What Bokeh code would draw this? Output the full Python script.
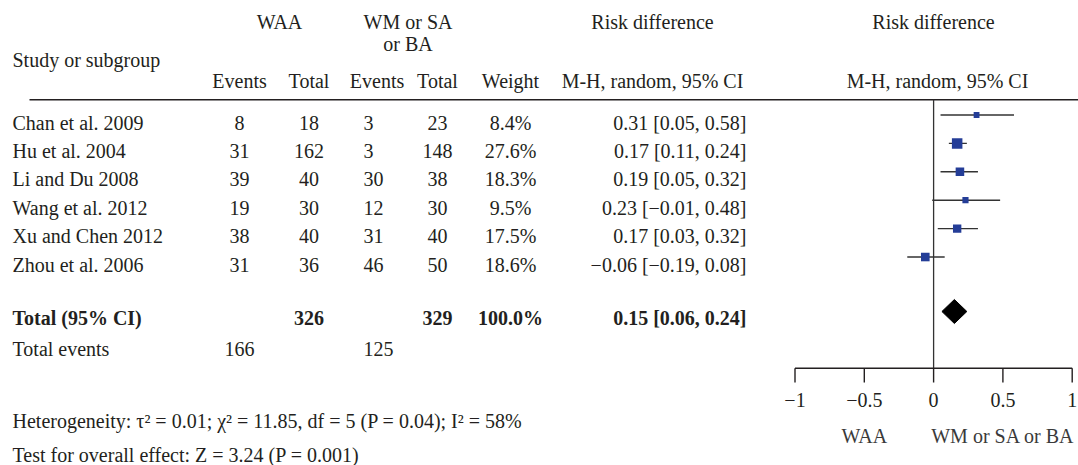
from bokeh.plotting import figure
from bokeh.models import Range1d
from bokeh.core.properties import value
from bokeh.embed import file_html
from bokeh.resources import INLINE
import math

# ---------------- data ----------------
studies = ["Chan et al. 2009", "Hu et al. 2004", "Li and Du 2008",
           "Wang et al. 2012", "Xu and Chen 2012", "Zhou et al. 2006"]
waa_events = [8, 31, 39, 19, 38, 31]
waa_total = [18, 162, 40, 30, 40, 36]
ctrl_events = [3, 3, 30, 12, 31, 46]
ctrl_total = [23, 148, 38, 30, 40, 50]
weights = [8.4, 27.6, 18.3, 9.5, 17.5, 18.6]
rd = [0.31, 0.17, 0.19, 0.23, 0.17, -0.06]
rd_lo = [0.05, 0.11, 0.05, -0.01, 0.03, -0.19]
rd_hi = [0.58, 0.24, 0.32, 0.48, 0.32, 0.08]

total_label = "Total (95% CI)"
total_waa = 326
total_ctrl = 329
total_weight = 100.0
total_rd = 0.15
total_lo = 0.06
total_hi = 0.24
events_label = "Total events"
events_waa = 166
events_ctrl = 125

heterogeneity = "Heterogeneity: τ² = 0.01; χ² = 11.85, df = 5 (P = 0.04); I² = 58%"
overall = "Test for overall effect: Z = 3.24 (P = 0.001)"

tick_values = [-1, -0.5, 0, 0.5, 1]
tick_labels = ["−1", "−0.5", "0", "0.5", "1"]
favours = ["WAA", "WM or SA or BA"]


def fmt(v):
    s = f"{abs(v):.2f}"
    return ("−" + s) if v < 0 else s


def ci_text(e, l, h):
    return f"{fmt(e)} [{fmt(l)}, {fmt(h)}]"


# ---------------- styling / layout ----------------
FONT = value("Liberation Serif")
FS = "20px"
TXT = "#231f20"
BLUE = "#243d97"

W, H = 1078, 465
p = figure(width=W, height=H, x_range=Range1d(0, W), y_range=Range1d(H, 0),
           output_backend="svg", toolbar_location=None, min_border=0,
           x_axis_location=None, y_axis_location=None,
           outline_line_color=None, background_fill_color="white",
           border_fill_color="white")
p.grid.visible = False

# risk-difference scale: -1 -> 794.5 px, 1 -> 1071.7 px
zero_px, unit_px = 933.1, 138.6
p.extra_x_ranges = {"rd": Range1d((0 - zero_px) / unit_px, (W - zero_px) / unit_px)}


def txt(x, y, t, align="left", bold=False, color=TXT, x_range_name=None):
    kw = dict(x=x, y=y, text=t, text_font=FONT, text_font_size=FS,
              text_align=align, text_baseline="middle", text_color=color,
              text_font_style="bold" if bold else "normal")
    if x_range_name:
        kw["x_range_name"] = x_range_name
    p.text(**kw)


# column anchors (layout)
X_NAME, X_EV1, X_TOT1, X_EV2, X_TOT2, X_W, X_CI = 12, 239, 308.5, 363, 437, 510, 746
X_RD1, X_RD2 = 652, 933

# headers
txt([279], [21], ["WAA"], "center")
txt([407.5], [21], ["WM or SA"], "center")
txt([407.5], [43], ["or BA"], "center")
txt([X_NAME], [59], ["Study or subgroup"])
txt([X_EV1, X_TOT1, 376.5, X_TOT2, X_W], [80] * 5,
    ["Events", "Total", "Events", "Total", "Weight"], "center")
txt([X_RD1, X_RD2], [21, 21], ["Risk difference", "Risk difference"], "center")
txt([X_RD1, 937], [80, 80], ["M-H, random, 95% CI", "M-H, random, 95% CI"], "center")

# header rule
p.segment(x0=[29], y0=[99.3], x1=[W], y1=[99.3], line_color=TXT, line_width=1.5)

# study rows
n = len(studies)
row_y = [122 + 28.4 * i for i in range(n)]
txt([X_NAME] * n, row_y, studies)
txt([X_EV1] * n, row_y, [str(v) for v in waa_events], "center")
txt([X_TOT1] * n, row_y, [str(v) for v in waa_total], "center")
txt([X_EV2] * n, row_y, [str(v) for v in ctrl_events], "left")
txt([X_TOT2] * n, row_y, [str(v) for v in ctrl_total], "center")
txt([X_W] * n, row_y, [f"{w:.1f}%" for w in weights], "center")
txt([X_CI] * n, row_y, [ci_text(e, l, h) for e, l, h in zip(rd, rd_lo, rd_hi)], "right")

# totals
ty = 317.5
txt([X_NAME], [ty], [total_label], bold=True)
txt([X_TOT1, X_TOT2, X_W], [ty] * 3,
    [str(total_waa), str(total_ctrl), f"{total_weight:.1f}%"], "center", bold=True)
txt([X_CI], [ty], [ci_text(total_rd, total_lo, total_hi)], "right", bold=True)

ey = 348.5
txt([X_NAME], [ey], [events_label])
txt([X_EV1], [ey], [str(events_waa)], "center")
txt([X_EV2], [ey], [str(events_ctrl)], "left")

txt([X_NAME], [420], [heterogeneity])
txt([X_NAME], [454], [overall])

# ---------------- forest plot ----------------
AX_Y = 367.7
forest_y = [y - 7.5 for y in row_y]

# line of no effect
p.segment(x0=[0], y0=[99.3], x1=[0], y1=[AX_Y], x_range_name="rd",
          line_color="#333333", line_width=1.3)

# CIs
p.segment(x0=rd_lo, y0=forest_y, x1=rd_hi, y1=forest_y, x_range_name="rd",
          line_color="#333333", line_width=1.4)
# weight boxes
sizes = [2.0 * math.sqrt(w) for w in weights]
p.scatter(x=rd, y=forest_y, size=sizes, marker="square", x_range_name="rd",
          fill_color=BLUE, line_color=None)

# pooled diamond
dy = ty - 6.5
p.patch(x=[total_lo, total_rd, total_hi, total_rd], y=[dy, dy - 12, dy, dy + 12],
        x_range_name="rd", fill_color="black", line_color="black", line_width=1)

# axis
p.segment(x0=[tick_values[0]], y0=[AX_Y], x1=[tick_values[-1]], y1=[AX_Y],
          x_range_name="rd", line_color=TXT, line_width=1.4)
p.segment(x0=tick_values, y0=[AX_Y] * len(tick_values), x1=tick_values,
          y1=[382] * len(tick_values), x_range_name="rd", line_color=TXT, line_width=1.4)
txt(tick_values, [399] * len(tick_values), tick_labels, "center", x_range_name="rd")

# favours labels
txt([-0.5, 0.5], [435, 435], favours, "center", color="#3a3a3a", x_range_name="rd")

open("out.html", "w").write(file_html(p, INLINE))
